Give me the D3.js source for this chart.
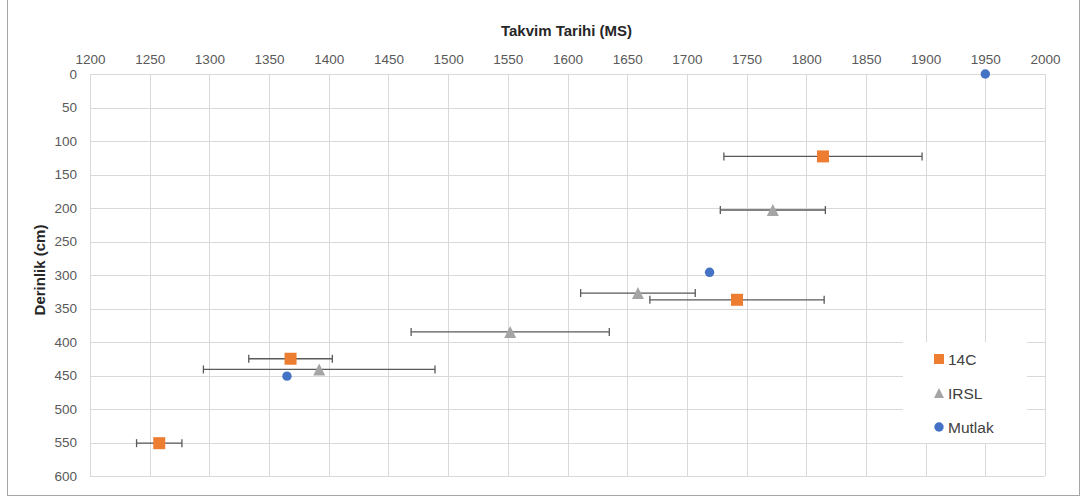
<!DOCTYPE html>
<html>
<head>
<meta charset="utf-8">
<script src="https://cdn.jsdelivr.net/npm/d3@7"></script>
<style>
  html, body { margin: 0; padding: 0; background: #fff; }
  svg { display: block; font-family: "Liberation Sans", Arial, sans-serif; }
</style>
</head>
<body>
<svg id="chart" width="1084" height="499"></svg>
<script>
// ---- Data ----
const xTicks = [1200, 1250, 1300, 1350, 1400, 1450, 1500, 1550, 1600, 1650, 1700, 1750, 1800, 1850, 1900, 1950, 2000];
const yTicks = [0, 50, 100, 150, 200, 250, 300, 350, 400, 450, 500, 550, 600];

const c14Year  = [1814, 1742, 1368, 1258];
const c14Depth = [123, 337, 425, 551];
const c14Err   = [83, 73, 35, 19];

const irslYear  = [1772, 1659, 1552, 1392];
const irslDepth = [203, 327, 385, 441];
const irslErr   = [44, 48, 83, 97];

const mutlakYear  = [1950, 1719, 1365];
const mutlakDepth = [0, 296, 451];

const seriesNames = ["14C", "IRSL", "Mutlak"];

// ---- Layout ----
const svg = d3.select("#chart");
const L = 90, R = 1045, T = 74, B = 476;
const x = d3.scaleLinear().domain([1200, 2000]).range([L, R]);
const y = d3.scaleLinear().domain([0, 600]).range([T, B]);

const colors = { c14: "#ED7D31", irsl: "#A5A5A5", mutlak: "#4472C4" };

// chart border
svg.append("rect").attr("x", 7.5).attr("y", -2).attr("width", 1072).attr("height", 497.5)
  .attr("fill", "#fff").attr("stroke", "#a6a6a6").attr("stroke-width", 1);

// ---- Axes with gridlines ----
const xAxis = d3.axisTop(x).tickValues(xTicks).tickFormat(d3.format("d"))
  .tickSizeInner(-(B - T)).tickSizeOuter(0).tickPadding(10);
const gx = svg.append("g").attr("transform", `translate(0,${T})`).call(xAxis);
gx.select(".domain").remove();
gx.selectAll(".tick line").attr("stroke", "#d9d9d9").attr("shape-rendering", "crispEdges");
gx.selectAll(".tick text").attr("fill", "#595959").style("font-size", "13.5px")
  .attr("font-family", "Liberation Sans, Arial, sans-serif");

const yAxis = d3.axisLeft(y).tickValues(yTicks).tickFormat(d3.format("d"))
  .tickSizeInner(-(B - T) * 0 - (R - L)).tickSizeOuter(0).tickPadding(13);
const gy = svg.append("g").attr("transform", `translate(${L},0)`).call(yAxis);
gy.select(".domain").remove();
gy.selectAll(".tick line").attr("stroke", "#d9d9d9").attr("shape-rendering", "crispEdges");
gy.selectAll(".tick text").attr("fill", "#595959").style("font-size", "13.5px")
  .attr("font-family", "Liberation Sans, Arial, sans-serif");

// ---- Axis titles ----
svg.append("text").attr("x", (L + R) / 2 - 1).attr("y", 36).attr("text-anchor", "middle")
  .attr("font-weight", "bold").attr("font-size", "15px").attr("fill", "#262626")
  .text("Takvim Tarihi (MS)");
svg.append("text").attr("transform", `translate(45,270) rotate(-90)`).attr("text-anchor", "middle")
  .attr("font-weight", "bold").attr("font-size", "15px").attr("fill", "#262626")
  .text("Derinlik (cm)");

// ---- Error bars ----
function errorBars(years, depths, errs) {
  const g = svg.append("g").attr("stroke", "#595959").attr("stroke-width", 1.3).attr("fill", "none");
  years.forEach((v, i) => {
    const yy = y(depths[i]);
    const x0 = x(v - errs[i]), x1 = x(v + errs[i]);
    g.append("line").attr("x1", x0).attr("x2", x1).attr("y1", yy).attr("y2", yy);
    g.append("line").attr("x1", x0).attr("x2", x0).attr("y1", yy - 4).attr("y2", yy + 4);
    g.append("line").attr("x1", x1).attr("x2", x1).attr("y1", yy - 4).attr("y2", yy + 4);
  });
}
errorBars(c14Year, c14Depth, c14Err);
errorBars(irslYear, irslDepth, irslErr);

// ---- Markers ----
function triPath(cx, cy, s) {
  const p = d3.path();
  p.moveTo(cx, cy - s / 2);
  p.lineTo(cx + s / 2, cy + s / 2);
  p.lineTo(cx - s / 2, cy + s / 2);
  p.closePath();
  return p.toString();
}

svg.append("g").selectAll("rect").data(c14Year).join("rect")
  .attr("x", (d) => x(d) - 6).attr("y", (d, i) => y(c14Depth[i]) - 6)
  .attr("width", 12).attr("height", 12).attr("fill", colors.c14);

svg.append("g").selectAll("path").data(irslYear).join("path")
  .attr("d", (d, i) => triPath(x(d), y(irslDepth[i]), 12)).attr("fill", colors.irsl);

svg.append("g").selectAll("circle").data(mutlakYear).join("circle")
  .attr("cx", (d) => x(d)).attr("cy", (d, i) => y(mutlakDepth[i]))
  .attr("r", 4.7).attr("fill", colors.mutlak);

// ---- Legend ----
const lg = svg.append("g");
lg.append("rect").attr("x", 903).attr("y", 342).attr("width", 124).attr("height", 101).attr("fill", "#fff");
const legY = [359, 393, 427];
const legColors = [colors.c14, colors.irsl, colors.mutlak];
seriesNames.forEach((name, i) => {
  const cy = legY[i], cx = 939;
  if (i === 0) lg.append("rect").attr("x", cx - 5).attr("y", cy - 5).attr("width", 10).attr("height", 10).attr("fill", legColors[i]);
  if (i === 1) lg.append("path").attr("d", triPath(cx, cy, 10)).attr("fill", legColors[i]);
  if (i === 2) lg.append("circle").attr("cx", cx).attr("cy", cy).attr("r", 4.7).attr("fill", legColors[i]);
  lg.append("text").attr("x", 948).attr("y", cy + 5.5).attr("font-size", "15.5px").attr("fill", "#404040").text(name);
});
</script>
</body>
</html>
